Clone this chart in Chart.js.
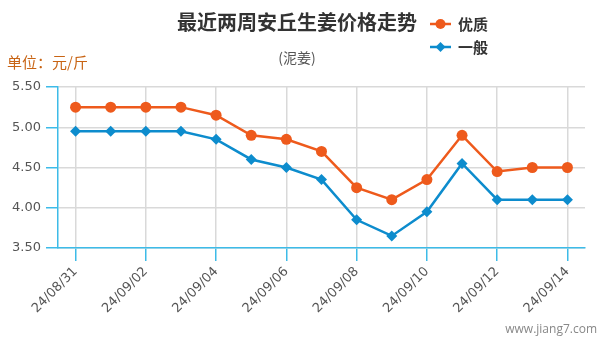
<!DOCTYPE html>
<html>
<head>
<meta charset="utf-8">
<script src="https://cdn.jsdelivr.net/npm/chart.js@4/dist/chart.umd.min.js"></script>
<style>
  html, body { margin: 0; padding: 0; background: #fff; }
  #wrap { position: relative; width: 600px; height: 341px; }
</style>
</head>
<body>
<div id="wrap"><canvas id="c" width="600" height="341"></canvas></div>
<script>
// 安丘生姜（泥姜）近两周价格，单位：元/斤
const dates = ['24/08/31','24/09/01','24/09/02','24/09/03','24/09/04','24/09/05','24/09/06','24/09/07',
               '24/09/08','24/09/09','24/09/10','24/09/11','24/09/12','24/09/13','24/09/14'];
const premium = [5.25,5.25,5.25,5.25,5.15,4.90,4.85,4.70,4.25,4.10,4.35,4.90,4.45,4.50,4.50];
const ordinary = [4.95,4.95,4.95,4.95,4.85,4.60,4.50,4.35,3.85,3.65,3.95,4.55,4.10,4.10,4.10];
const yTicks = [3.5, 4.0, 4.5, 5.0, 5.5];

const ORANGE = '#ee5a1c';
const BLUE = '#0d8ccd';
const AXIS = '#3dbbe8';
const GRID = '#d9d9d9';
const FONT = '"DejaVu Sans", sans-serif';
const CJK = '"Noto Sans CJK SC", sans-serif';

// Titles, unit label, legend and site mark
const decor = {
  id: 'decor',
  afterDraw(chart) {
    const ctx = chart.ctx;
    ctx.save();
    ctx.textBaseline = 'middle';
    ctx.textAlign = 'center';
    ctx.fillStyle = '#333';
    ctx.font = 'bold 20px ' + CJK;
    ctx.fillText('最近两周安丘生姜价格走势', 297, 22);
    ctx.fillStyle = '#555';
    ctx.font = '14px ' + CJK;
    ctx.fillText('(泥姜)', 297, 58);

    ctx.textAlign = 'left';
    ctx.fillStyle = '#c86414';
    ctx.font = '15px ' + CJK;
    ctx.fillText('单位：元/斤', 7, 62);

    const items = [
      { label: '优质', color: ORANGE, style: 'circle', y: 24 },
      { label: '一般', color: BLUE, style: 'rectRot', y: 47 }
    ];
    items.forEach(it => {
      ctx.strokeStyle = it.color;
      ctx.lineWidth = 2.5;
      ctx.beginPath();
      ctx.moveTo(430, it.y);
      ctx.lineTo(451, it.y);
      ctx.stroke();
      ctx.fillStyle = it.color;
      Chart.helpers.drawPoint(ctx, { pointStyle: it.style, radius: 5, borderWidth: 0 }, 440.5, it.y);
      ctx.fillStyle = '#333';
      ctx.font = 'bold 15px ' + CJK;
      ctx.fillText(it.label, 458, it.y);
    });

    ctx.textAlign = 'right';
    ctx.fillStyle = '#888';
    ctx.font = '12px "Open Sans", sans-serif';
    ctx.fillText('www.jiang7.com', 597, 330);
    ctx.restore();
  }
};

const everyOther = (c, on, off) => (c.index % 2 === 0 ? on : off);

new Chart(document.getElementById('c'), {
  type: 'line',
  data: {
    labels: dates,
    datasets: [
      { label: '优质', data: premium, borderColor: ORANGE, backgroundColor: ORANGE,
        borderWidth: 2.5, pointStyle: 'circle', pointRadius: 5.5, pointHoverRadius: 5.5,
        pointBorderWidth: 0, tension: 0 },
      { label: '一般', data: ordinary, borderColor: BLUE, backgroundColor: BLUE,
        borderWidth: 2.5, pointStyle: 'rectRot', pointRadius: 5.5, pointHoverRadius: 5.5,
        pointBorderWidth: 0, tension: 0 }
    ]
  },
  options: {
    responsive: false,
    animation: false,
    events: [],
    layout: { padding: { top: 87, right: 15, left: 0, bottom: 0 } },
    plugins: { legend: { display: false }, title: { display: false }, tooltip: { enabled: false } },
    scales: {
      x: {
        offset: true,
        grid: {
          offset: false,
          color: c => everyOther(c, GRID, 'rgba(0,0,0,0)'),
          tickColor: c => everyOther(c, AXIS, 'rgba(0,0,0,0)'),
          tickLength: 13,
          lineWidth: 1.5
        },
        border: { color: AXIS, width: 1.5 },
        ticks: {
          autoSkip: false,
          minRotation: 45, maxRotation: 45,
          padding: 3,
          color: '#555',
          font: { family: FONT, size: 13 },
          callback: function (v, i) { return i % 2 === 0 ? this.getLabelForValue(v) : ''; }
        },
        afterFit: s => { s.height = 341 - 248; }
      },
      y: {
        min: 3.5, max: 5.5,
        afterBuildTicks: s => { s.ticks = yTicks.map(v => ({ value: v })); },
        grid: { color: GRID, tickColor: AXIS, tickLength: 12, lineWidth: 1.5 },
        border: { color: AXIS, width: 1.5 },
        ticks: {
          color: '#555',
          padding: 5,
          font: { family: FONT, size: 13 },
          callback: v => v.toFixed(2)
        },
        afterFit: s => { s.width = 58; }
      }
    }
  },
  plugins: [decor]
});
</script>
</body>
</html>
